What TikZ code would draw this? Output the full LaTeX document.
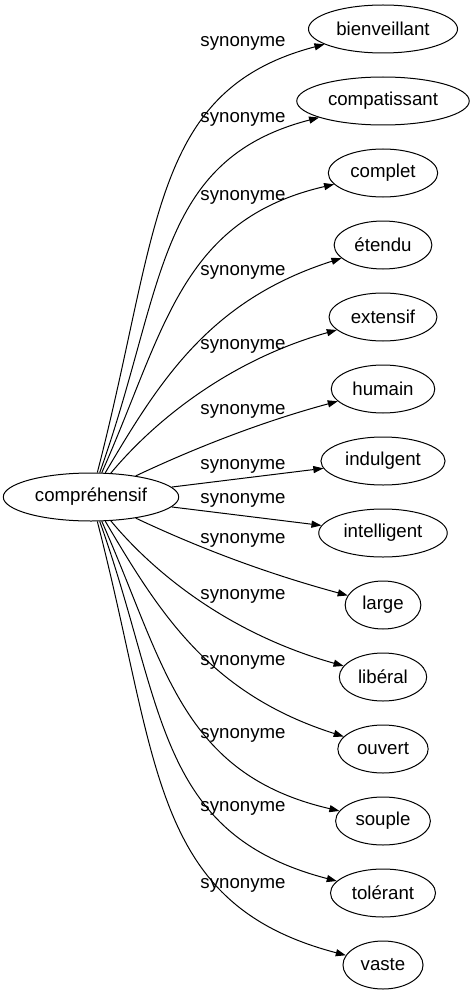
\documentclass[tikz,border=0pt]{standalone}
\usepackage{fontspec}
\setmainfont{Liberation Sans}
\usetikzlibrary{arrows.meta,positioning,shapes.geometric}

\begin{document}
\begin{tikzpicture}[
    x=0.75pt, y=-0.75pt,
    node distance=17.25pt,
    every node/.style={font=\fontsize{14}{16}\selectfont},
    word/.style={draw, ellipse, line width=0.75pt, minimum height=36pt, inner xsep=4.5pt, inner ysep=2pt},
    rel/.style={inner sep=0pt},
    flow/.style={-{Triangle[length=7.5pt, width=5.3pt]}, line width=0.75pt}
]
\useasboundingbox (0,0) rectangle (471,995);
\node[word] (comprehensif) at (91,497) {compréhensif};
\node[word] (bienveillant) at (383,29) {bienveillant};
\node[word, below=of bienveillant] (compatissant) {compatissant};
\node[word, below=of compatissant] (complet) {complet};
\node[word, below=of complet] (etendu) {étendu};
\node[word, below=of etendu] (extensif) {extensif};
\node[word, below=of extensif] (humain) {humain};
\node[word, below=of humain] (indulgent) {indulgent};
\node[word, below=of indulgent] (intelligent) {intelligent};
\node[word, below=of intelligent] (large) {large};
\node[word, below=of large] (liberal) {libéral};
\node[word, below=of liberal] (ouvert) {ouvert};
\node[word, below=of ouvert] (souple) {souple};
\node[word, below=of souple] (tolerant) {tolérant};
\node[word, below=of tolerant] (vaste) {vaste};
% labels
\node[rel] (l1) at (243,43) {synonyme};
\node[rel] (l2) at (243,119) {synonyme};
\node[rel] (l3) at (243,197) {synonyme};
\node[rel] (l4) at (243,272) {synonyme};
\node[rel] (l5) at (243,346) {synonyme};
\node[rel] (l6) at (243,411) {synonyme};
\node[rel] (l7) at (243,466) {synonyme};
\node[rel] (l8) at (243,500) {synonyme};
\node[rel] (l9) at (243,540) {synonyme};
\node[rel] (l10) at (243,596) {synonyme};
\node[rel] (l11) at (243,662) {synonyme};
\node[rel] (l12) at (243,735) {synonyme};
\node[rel] (l13) at (243,808) {synonyme};
\node[rel] (l14) at (243,885) {synonyme};
% edges
\draw[flow] (comprehensif) .. controls (160,230) and (150,90) .. (bienveillant);
\draw[flow] (comprehensif) .. controls (165,290) and (155,160) .. (compatissant);
\draw[flow] (comprehensif) .. controls (165,330) and (180,220) .. (complet);
\draw[flow] (comprehensif) .. controls (160,380) and (210,300) .. (etendu);
\draw[flow] (comprehensif) .. controls (155,420) and (230,360) .. (extensif);
\draw[flow] (comprehensif) .. controls (180,455) and (250,425) .. (humain);
\draw[flow] (comprehensif) -- (indulgent);
\draw[flow] (comprehensif) -- (intelligent);
\draw[flow] (comprehensif) .. controls (180,539) and (250,569) .. (large);
\draw[flow] (comprehensif) .. controls (155,574) and (230,634) .. (liberal);
\draw[flow] (comprehensif) .. controls (160,614) and (210,694) .. (ouvert);
\draw[flow] (comprehensif) .. controls (165,664) and (180,774) .. (souple);
\draw[flow] (comprehensif) .. controls (165,704) and (155,834) .. (tolerant);
\draw[flow] (comprehensif) .. controls (160,764) and (150,904) .. (vaste);
\end{tikzpicture}
\end{document}
